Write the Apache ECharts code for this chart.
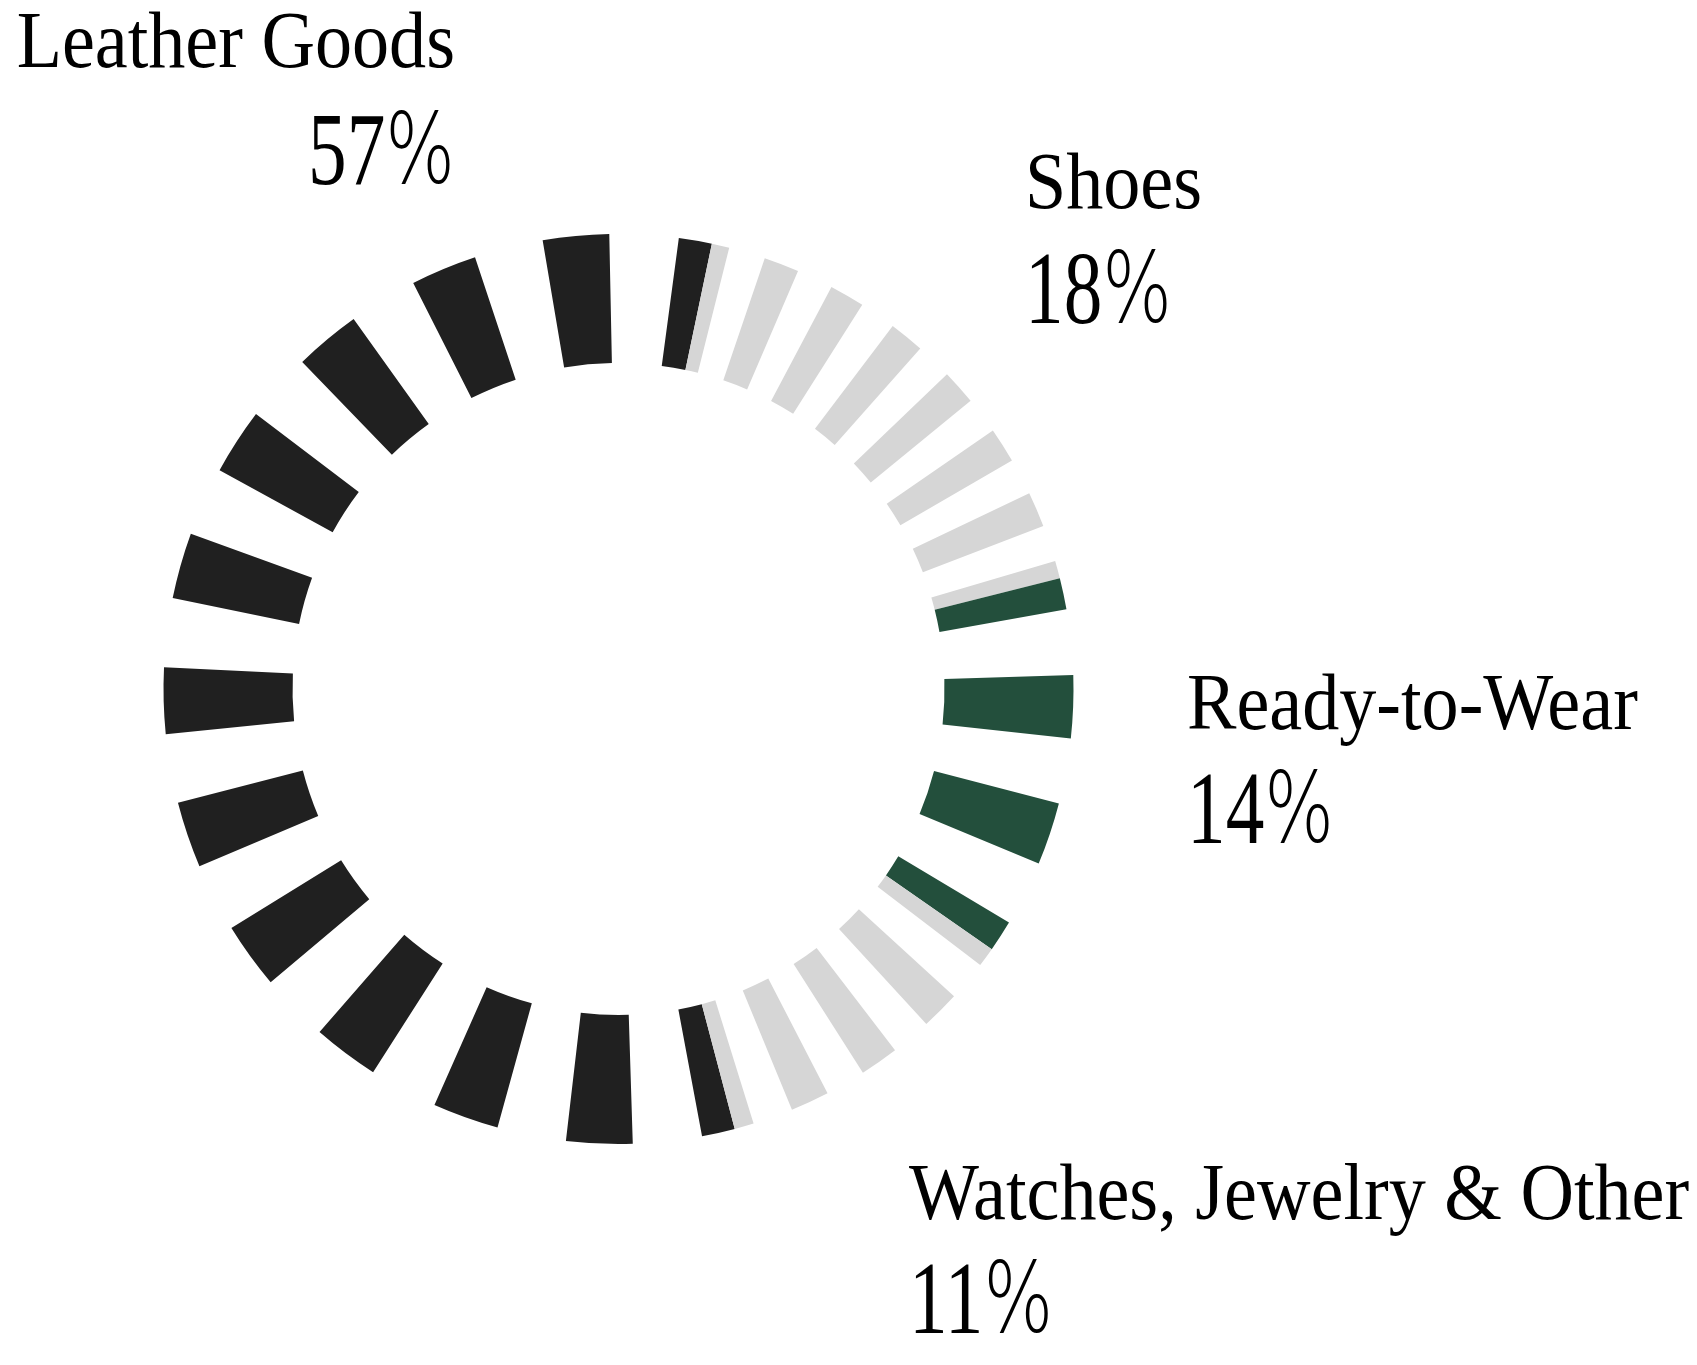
<!DOCTYPE html>
<html>
<head>
<meta charset="utf-8">
<style>
  html, body { margin: 0; padding: 0; background: #ffffff; }
  #chart { width: 1697px; height: 1365px; }
</style>
<script src="https://cdn.jsdelivr.net/npm/echarts@6/dist/echarts.min.js"></script>
</head>
<body>
<div id="chart"></div>
<script>
// ---- data ----
const categories = ['Leather Goods', 'Shoes', 'Ready-to-Wear', 'Watches, Jewelry & Other'];
const shares = [57.4, 17.8, 13.6, 11.2];
const percentLabels = ['57', '18', '14', '11'];

// ---- style / layout ----
const sliceColors = ['#202020', '#d6d6d6', '#234f3c', '#d6d6d6'];
const segmentsPerSlice = [12, 7, 3, 4];
const dashRatio = 0.49;
const firstSliceStartClockwise = 165.2; // degrees clockwise from 12 o'clock
const ringCenter = [618.5, 689];
const ringRadius = [326, 455];
const labelPos = [
  { x: 455,  nameY: 67,   pctY: 186,  align: 'right' },
  { x: 1025, nameY: 208,  pctY: 325,  align: 'left' },
  { x: 1187, nameY: 729,  pctY: 845,  align: 'left' },
  { x: 909,  nameY: 1219, pctY: 1335, align: 'left' }
];
const nameFontSize = 81;
const pctFontSize = 103;
const nameScaleX = 0.915;
const pctScaleX = 0.75;
const fontFamily = '"Liberation Serif", "DejaVu Serif", serif';
const percentSignFamily = '"DejaVu Sans ExtraLight", "DejaVu Sans Light", "Liberation Serif", serif';

// ---- build dashed ring pieces from the shares ----
const total = shares.reduce((a, b) => a + b, 0);
const pieces = [];
const GAP = 'rgba(0,0,0,0)';
shares.forEach((v, c) => {
  const span = v / total * 360;
  const n = segmentsPerSlice[c];
  const period = span / n;
  const dash = period * dashRatio;
  const gap = period - dash;
  const col = sliceColors[c];
  pieces.push({ value: dash / 2, itemStyle: { color: col } });
  for (let k = 1; k < n; k++) {
    pieces.push({ value: gap, itemStyle: { color: GAP } });
    pieces.push({ value: dash, itemStyle: { color: col } });
  }
  pieces.push({ value: gap, itemStyle: { color: GAP } });
  pieces.push({ value: dash / 2, itemStyle: { color: col } });
});

// ---- labels ----
const graphics = [];
categories.forEach((name, i) => {
  const p = labelPos[i];
  graphics.push({
    type: 'text', x: p.x, y: p.nameY - 0.26 * nameFontSize,
    scaleX: nameScaleX, silent: true,
    style: {
      text: name, fontSize: nameFontSize, fontFamily: fontFamily, fill: '#000',
      align: p.align, textAlign: p.align, verticalAlign: 'middle', textVerticalAlign: 'middle'
    }
  });
  graphics.push({
    type: 'text', x: p.x, y: p.pctY - 0.28 * pctFontSize,
    scaleX: pctScaleX, silent: true,
    style: {
      text: '{d|' + percentLabels[i] + '}{p|%}',
      fontSize: pctFontSize, fontFamily: fontFamily, fill: '#000',
      align: p.align, textAlign: p.align, verticalAlign: 'middle', textVerticalAlign: 'middle',
      rich: {
        d: { fontSize: pctFontSize, fontFamily: fontFamily, fill: '#000' },
        p: { fontSize: pctFontSize * 0.95, fontFamily: percentSignFamily, fontWeight: 200, fill: '#000' }
      }
    }
  });
});

const chart = echarts.init(document.getElementById('chart'), null, { renderer: 'canvas' });
chart.setOption({
  backgroundColor: '#ffffff',
  animation: false,
  graphic: { elements: graphics },
  series: [{
    type: 'pie',
    silent: true,
    center: ringCenter,
    radius: ringRadius,
    startAngle: 90 - firstSliceStartClockwise,
    clockwise: true,
    avoidLabelOverlap: false,
    minAngle: 0,
    percentPrecision: 6,
    label: { show: false },
    labelLine: { show: false },
    itemStyle: { borderWidth: 0 },
    emphasis: { disabled: true },
    data: pieces
  }]
});
</script>
</body>
</html>
